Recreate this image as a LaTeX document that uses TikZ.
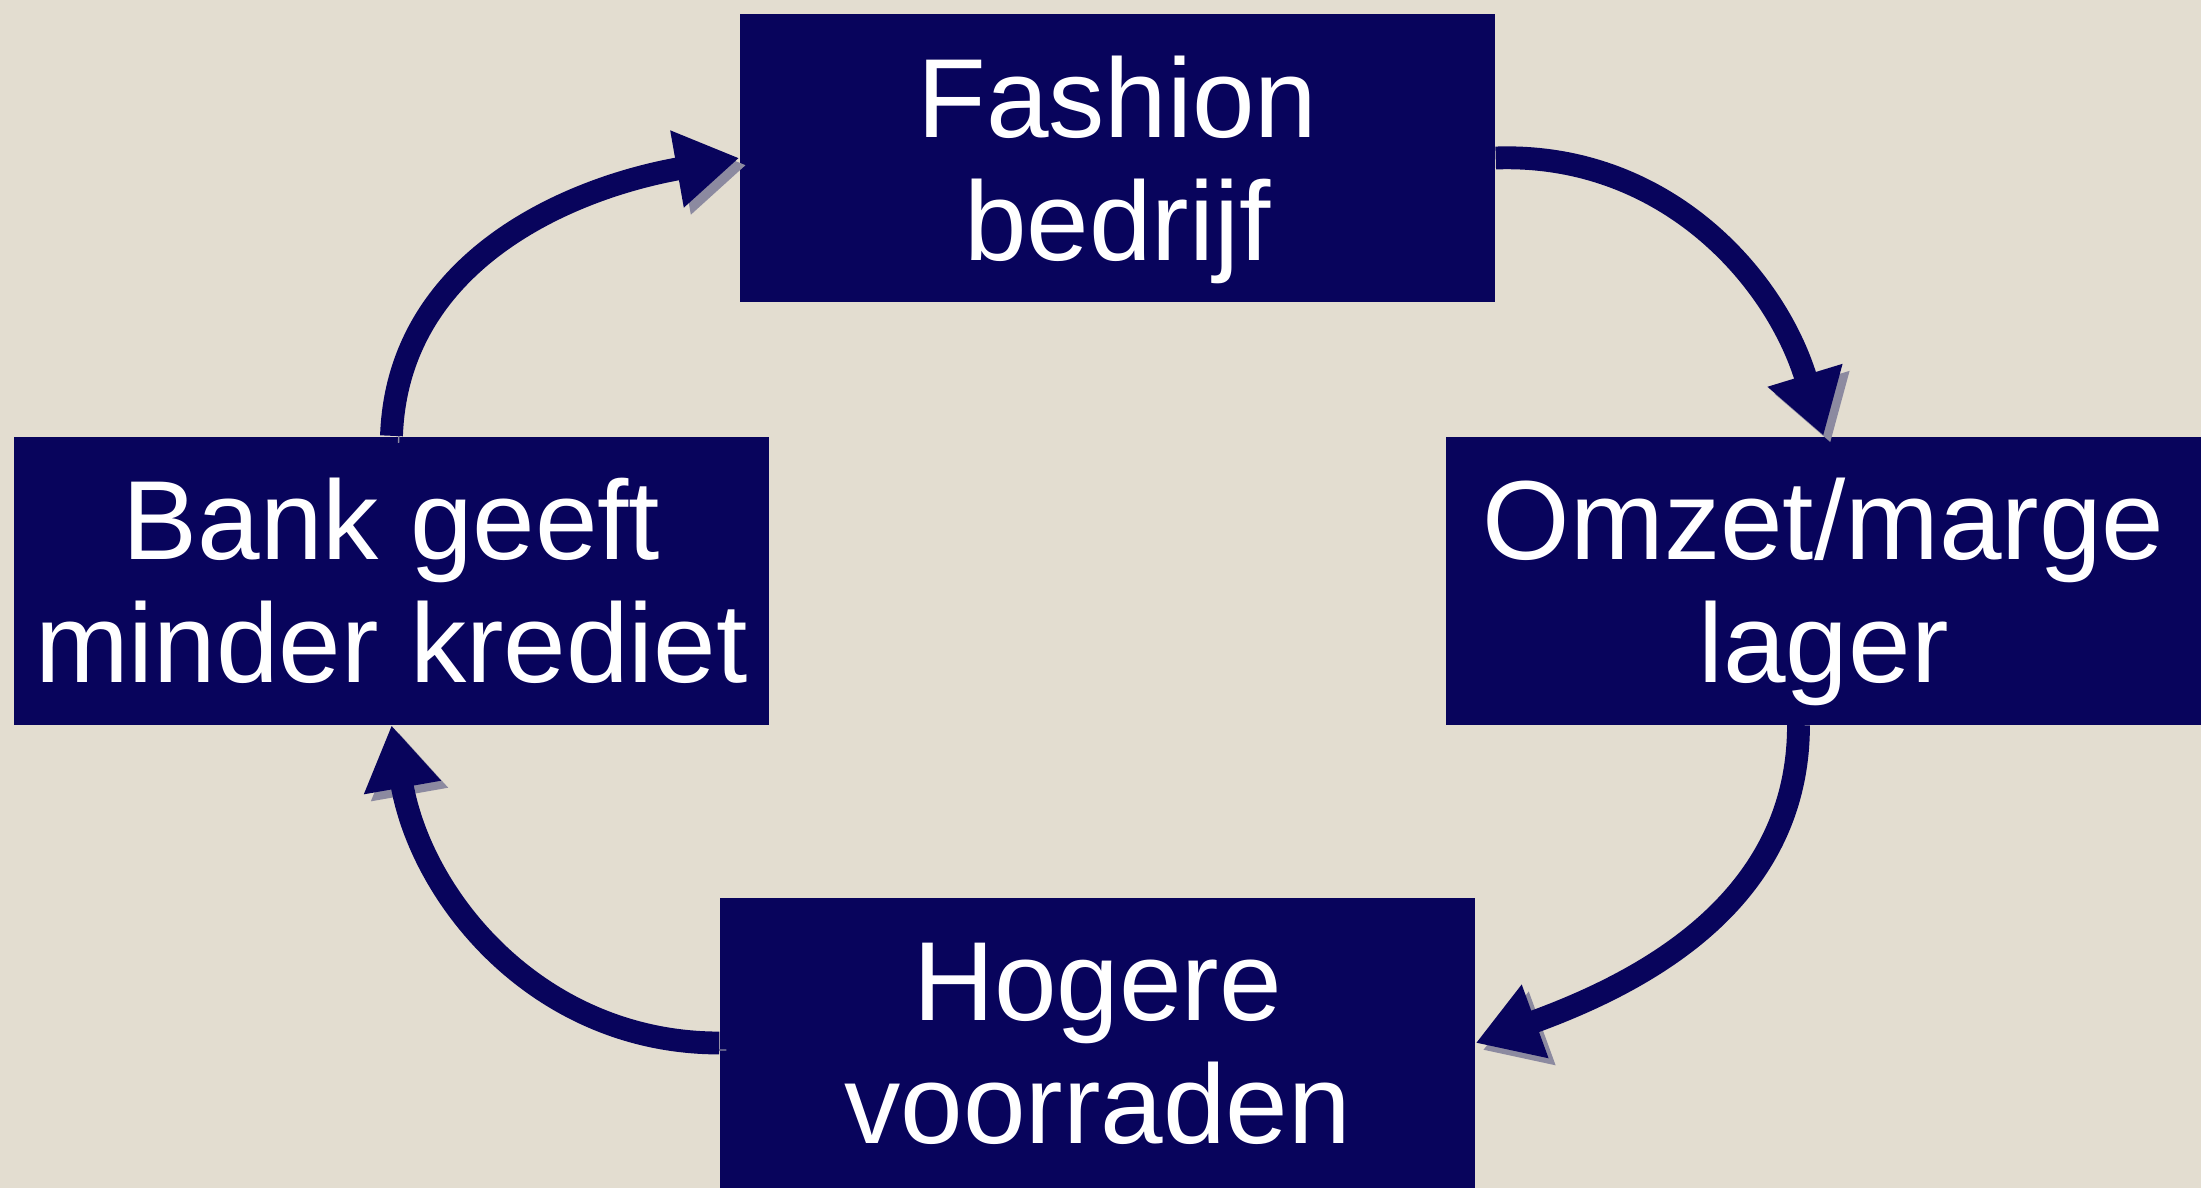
\documentclass[tikz,border=0pt]{standalone}
\usepackage{fontspec}
\setmainfont{Liberation Sans}
\usepackage{tikz}
\usetikzlibrary{arrows.meta}

\definecolor{paper}{RGB}{227,221,208}
\definecolor{navy}{RGB}{8,4,92}
\definecolor{shade}{RGB}{140,138,160}

\tikzset{
    box/.style = {align=center, fill=navy, text=white, inner sep=0pt,
        minimum width=7.55cm, minimum height=2.88cm, text depth=0pt,
        font=\fontsize{32}{35}\selectfont},
    flow/.style = {draw=navy, line width=6.5pt,
        arrows = {-Triangle[width=21pt, length=18pt]},
        preaction = {draw=shade, transform canvas={shift={(2pt,-2pt)}}}}
}

\begin{document}
\begin{tikzpicture}
    \fill[paper] (0, 0) rectangle (22.01, 11.88);
    \useasboundingbox (0, 0) rectangle (22.01, 11.88);
    \node[box] (fashion) at (11.175, 10.30) {Fashion\\bedrijf};
    \node[box] (bank) at (3.915, 6.075) {Bank geeft\\minder krediet};
    \node[box] (omzet) at (18.235, 6.075) {Omzet/marge\\lager};
    \node[box, minimum height=2.9cm] (hogere) at (10.975, 1.45) {Hogere\\voorraden};
    \draw[flow] (fashion.east) to[out=2, in=107] (omzet.north);
    \draw[flow] ([xshift=-0.25cm]omzet.south) to[out=-90, in=20] (hogere.east);
    \draw[flow] (hogere.west) to[out=180, in=-80] (bank.south);
    \draw[flow] (bank.north) to[out=88, in=190] (fashion.west);
\end{tikzpicture}
\end{document}
